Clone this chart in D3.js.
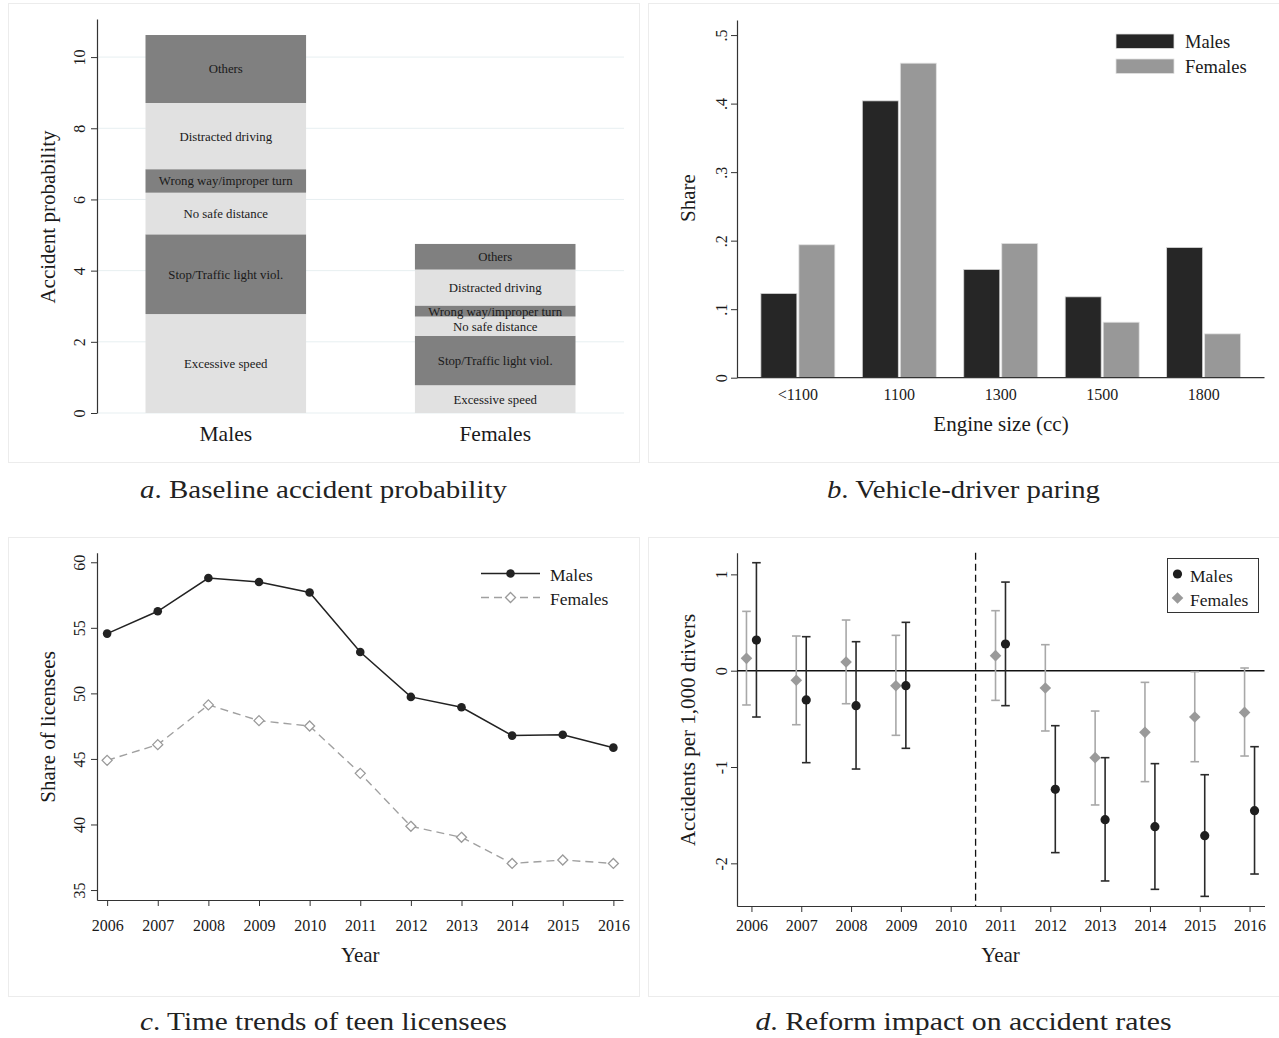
<!DOCTYPE html>
<html>
<head>
<meta charset="utf-8">
<script src="https://cdn.jsdelivr.net/npm/d3@7"></script>
<style>
  html, body { margin: 0; padding: 0; background: #fff; }
  svg { display: block; font-family: "Liberation Serif", "Times New Roman", serif; }
</style>
</head>
<body>
<svg id="fig" width="1279" height="1038"></svg>
<script>
// ---- Panel a: baseline accident probability by cause ----
const causes = ["Excessive speed", "Stop/Traffic light viol.", "No safe distance",
                "Wrong way/improper turn", "Distracted driving", "Others"];
const drivers = ["Males", "Females"];
const maleCauseProb   = [2.78, 2.24, 1.17, 0.66, 1.86, 1.91];
const femaleCauseProb = [0.78, 1.39, 0.54, 0.31, 1.01, 0.72];
const probTicks = [0, 2, 4, 6, 8, 10];

// ---- Panel b: engine size shares ----
const engineSizes = ["<1100", "1100", "1300", "1500", "1800"];
const maleShare   = [0.123, 0.404, 0.158, 0.118, 0.190];
const femaleShare = [0.194, 0.459, 0.196, 0.081, 0.064];
const shareTicks = [0, 0.1, 0.2, 0.3, 0.4, 0.5];

// ---- Panel c: share of teen licensees ----
const years = [2006, 2007, 2008, 2009, 2010, 2011, 2012, 2013, 2014, 2015, 2016];
const maleLicensees   = [54.56, 56.26, 58.80, 58.50, 57.69, 53.16, 49.73, 48.94, 46.78, 46.85, 45.86];
const femaleLicensees = [44.89, 46.09, 49.12, 47.92, 47.51, 43.90, 39.86, 39.02, 37.03, 37.29, 37.03];
const licTicks = [35, 40, 45, 50, 55, 60];

// ---- Panel d: event-study estimates ----
const eventYears = [2006, 2007, 2008, 2009, 2011, 2012, 2013, 2014, 2015, 2016];
const maleEst   = [0.318, -0.304, -0.363, -0.156, 0.277, -1.232, -1.547, -1.619, -1.713, -1.453];
const maleLo    = [-0.481, -0.955, -1.021, -0.806, -0.363, -1.889, -2.183, -2.270, -2.343, -2.111];
const maleHi    = [1.121, 0.353, 0.301, 0.502, 0.920, -0.571, -0.903, -0.965, -1.080, -0.789];
const femaleEst = [0.128, -0.100, 0.090, -0.156, 0.156, -0.180, -0.903, -0.640, -0.481, -0.433];
const femaleLo  = [-0.356, -0.561, -0.343, -0.671, -0.308, -0.626, -1.394, -1.152, -0.945, -0.886];
const femaleHi  = [0.616, 0.360, 0.526, 0.367, 0.623, 0.270, -0.419, -0.121, -0.010, 0.028];
const effectTicks = [-2, -1, 0, 1];
const reformYear = 2010.5;

const captions = [
  {letter: "a", text: "Baseline accident probability", cx: 323.5, y: 498, w: 367},
  {letter: "b", text: "Vehicle-driver paring",         cx: 963.5, y: 498, w: 273},
  {letter: "c", text: "Time trends of teen licensees", cx: 323.5, y: 1030, w: 367},
  {letter: "d", text: "Reform impact on accident rates", cx: 963.5, y: 1030, w: 416}
];

const svg = d3.select("#fig");
svg.append("rect").attr("width", 1279).attr("height", 1038).attr("fill", "#fff");

// panel frames
[[8, 3], [648, 3], [8, 537], [648, 537]].forEach(([x, y]) => {
  svg.append("rect").attr("x", x + 0.5).attr("y", y + 0.5).attr("width", 631).attr("height", 459)
    .attr("fill", "none").attr("stroke", "#ececec").attr("stroke-width", 1);
});

const TXT = "#1a1a1a";
const TICK_FS = 16;
const plain = d => String(d);   // ASCII hyphen for negatives

function leftAxis(g, scale, ticks, fmt, x0, shift) {
  const ax = g.append("g").attr("transform", `translate(${x0},0)`)
    .call(d3.axisLeft(scale).tickValues(ticks).tickFormat(fmt).tickSize(6).tickSizeOuter(0));
  ax.attr("font-size", TICK_FS).attr("font-family", "Liberation Serif, serif");
  ax.select(".domain").attr("stroke", "#333").attr("stroke-width", 1.2);
  ax.selectAll(".tick line").attr("stroke", "#333").attr("stroke-width", 1);
  ax.selectAll(".tick text")
    .attr("x", null).attr("dy", "0.35em")
    .attr("text-anchor", "middle")
    .attr("transform", `translate(${-shift},0) rotate(-90)`)
    .attr("font-size", TICK_FS).attr("fill", TXT);
  return ax;
}

function bottomAxis(g, scale, ticks, y0, labelY) {
  const xa = g.append("g").attr("transform", `translate(0,${y0})`)
    .call(d3.axisBottom(scale).tickValues(ticks).tickFormat(plain).tickSize(6).tickSizeOuter(0));
  xa.attr("font-size", TICK_FS).attr("font-family", "Liberation Serif, serif");
  xa.select(".domain").attr("stroke", "#333").attr("stroke-width", 1.2);
  xa.selectAll(".tick line").attr("stroke", "#333");
  xa.selectAll(".tick text").attr("y", labelY).attr("dy", "0.35em")
    .attr("font-size", TICK_FS).attr("fill", TXT);
  return xa;
}

function rotTitle(x, y, text) {
  svg.append("text").attr("transform", `translate(${x},${y}) rotate(-90)`)
    .attr("text-anchor", "middle").attr("dy", "0.35em")
    .attr("font-size", 21).attr("fill", TXT).text(text);
}

const diamond = (cx, cy, r) => `M${cx},${cy - r}L${cx + r},${cy}L${cx},${cy + r}L${cx - r},${cy}Z`;

// ================= Panel a =================
{
  const g = svg.append("g");
  const y = d3.scaleLinear().domain([0, 11.07]).range([413, 19]);
  const x = d3.scaleBand().domain(drivers).range([97, 624]).paddingInner(0.404).paddingOuter(0.18);

  // grid
  g.selectAll("line.grid").data(probTicks).join("line")
    .attr("x1", 97).attr("x2", 624).attr("y1", d => y(d)).attr("y2", d => y(d))
    .attr("stroke", "#e7eff1").attr("stroke-width", 1);

  const rows = drivers.map((d, i) => {
    const vals = i === 0 ? maleCauseProb : femaleCauseProb;
    const r = {driver: d};
    causes.forEach((c, j) => r[c] = vals[j]);
    return r;
  });
  const series = d3.stack().keys(causes)(rows);
  const fills = ["#e1e1e1", "#808080", "#e1e1e1", "#808080", "#e1e1e1", "#808080"];
  series.forEach((s, k) => {
    g.selectAll(null).data(s).join("rect")
      .attr("x", d => x(d.data.driver)).attr("width", x.bandwidth())
      .attr("y", d => y(d[1])).attr("height", d => y(d[0]) - y(d[1]))
      .attr("fill", fills[k]);
    g.selectAll(null).data(s).join("text")
      .attr("x", d => x(d.data.driver) + x.bandwidth() / 2)
      .attr("y", d => (y(d[0]) + y(d[1])) / 2).attr("dy", "0.35em")
      .attr("text-anchor", "middle").attr("font-size", 12.8).attr("fill", TXT)
      .text(s.key);
  });

  leftAxis(g, y, probTicks, plain, 97, 18);
  g.selectAll(null).data(drivers).join("text")
    .attr("x", d => x(d) + x.bandwidth() / 2).attr("y", 433).attr("dy", "0.35em")
    .attr("text-anchor", "middle").attr("font-size", 21.5).attr("fill", TXT).text(d => d);
  rotTitle(48, 217, "Accident probability");
}

// ================= Panel b =================
{
  const g = svg.append("g");
  const y = d3.scaleLinear().domain([0, 0.522]).range([377.7, 20]);
  const x = d3.scalePoint().domain(engineSizes).range([737, 1264.5]).padding(0.6);
  const bw = 36, gap = 1;

  g.selectAll(null).data(engineSizes).join("rect")
    .attr("x", d => x(d) - bw - gap).attr("width", bw)
    .attr("y", (d, i) => y(maleShare[i])).attr("height", (d, i) => y(0) - y(maleShare[i]))
    .attr("fill", "#262626").attr("stroke", "#d8d8d8").attr("stroke-width", 0.8);
  g.selectAll(null).data(engineSizes).join("rect")
    .attr("x", d => x(d) + gap).attr("width", bw)
    .attr("y", (d, i) => y(femaleShare[i])).attr("height", (d, i) => y(0) - y(femaleShare[i]))
    .attr("fill", "#989898").attr("stroke", "#e2e2e2").attr("stroke-width", 0.8);

  leftAxis(g, y, shareTicks, d => d === 0 ? "0" : d3.format(".1f")(d).replace(/^0/, ""), 737, 16);
  g.append("line").attr("x1", 737).attr("x2", 1264.5).attr("y1", y(0)).attr("y2", y(0))
    .attr("stroke", "#333").attr("stroke-width", 1.2);
  g.selectAll(null).data(engineSizes).join("text")
    .attr("x", d => x(d)).attr("y", 394).attr("dy", "0.35em")
    .attr("text-anchor", "middle").attr("font-size", TICK_FS).attr("fill", TXT).text(d => d);
  g.append("text").attr("x", 1001).attr("y", 424).attr("dy", "0.35em")
    .attr("text-anchor", "middle").attr("font-size", 21).attr("fill", TXT).text("Engine size (cc)");
  rotTitle(688, 198, "Share");

  // legend
  const leg = [["Males", "#262626", 34], ["Females", "#989898", 59]];
  leg.forEach(([lab, col, ty]) => {
    g.append("rect").attr("x", 1116).attr("y", ty).attr("width", 58).attr("height", 14.5)
      .attr("fill", col).attr("stroke", "#e2e2e2").attr("stroke-width", 0.8);
    g.append("text").attr("x", 1185).attr("y", ty + 7.5).attr("dy", "0.35em")
      .attr("font-size", 18.5).attr("fill", TXT).text(lab);
  });
}

// ================= Panel c =================
{
  const g = svg.append("g");
  const y = d3.scaleLinear().domain([34.24, 60.73]).range([900, 552.7]);
  const x = d3.scaleLinear().domain([2005.80, 2016.19]).range([97, 623]);

  leftAxis(g, y, licTicks, plain, 97, 18);
  bottomAxis(g, x, years, 900, 25);

  const line = d3.line().x((d, i) => x(years[i])).y(d => y(d));
  g.append("path").datum(femaleLicensees).attr("d", line)
    .attr("fill", "none").attr("stroke", "#a0a0a0").attr("stroke-width", 1.4)
    .attr("stroke-dasharray", "8,5");
  g.append("path").datum(maleLicensees).attr("d", line)
    .attr("fill", "none").attr("stroke", "#222").attr("stroke-width", 1.5);

  g.selectAll(null).data(femaleLicensees).join("path")
    .attr("d", (d, i) => diamond(x(years[i]), y(d), 5))
    .attr("fill", "#fff").attr("stroke", "#9a9a9a").attr("stroke-width", 1.3);
  g.selectAll(null).data(maleLicensees).join("circle")
    .attr("cx", (d, i) => x(years[i])).attr("cy", d => y(d)).attr("r", 4.3)
    .attr("fill", "#222");

  g.append("text").attr("x", x(2011)).attr("y", 955).attr("dy", "0.35em")
    .attr("text-anchor", "middle").attr("font-size", 21).attr("fill", TXT).text("Year");
  rotTitle(48, 727, "Share of licensees");

  // legend
  g.append("line").attr("x1", 481).attr("x2", 540).attr("y1", 573.5).attr("y2", 573.5)
    .attr("stroke", "#222").attr("stroke-width", 1.5);
  g.append("circle").attr("cx", 510.5).attr("cy", 573.5).attr("r", 4.3).attr("fill", "#222");
  g.append("line").attr("x1", 481).attr("x2", 540).attr("y1", 597.5).attr("y2", 597.5)
    .attr("stroke", "#a0a0a0").attr("stroke-width", 1.4).attr("stroke-dasharray", "8,5");
  g.append("path").attr("d", diamond(510.5, 597.5, 5))
    .attr("fill", "#fff").attr("stroke", "#9a9a9a").attr("stroke-width", 1.3);
  g.append("text").attr("x", 550).attr("y", 575).attr("dy", "0.35em")
    .attr("font-size", 17.5).attr("fill", TXT).text("Males");
  g.append("text").attr("x", 550).attr("y", 599).attr("dy", "0.35em")
    .attr("font-size", 17.5).attr("fill", TXT).text("Females");
}

// ================= Panel d =================
{
  const g = svg.append("g");
  const y = d3.scaleLinear().domain([-2.443, 1.225]).range([906, 552.7]);
  const x = d3.scaleLinear().domain([2005.71, 2016.3]).range([737, 1264.5]);
  const off = 0.1, cap = 4.3;

  leftAxis(g, y, effectTicks, plain, 737, 16);
  bottomAxis(g, x, years, 906, 19);

  // zero reference and reform date
  g.append("line").attr("x1", 737).attr("x2", 1264.5).attr("y1", y(0)).attr("y2", y(0))
    .attr("stroke", "#111").attr("stroke-width", 1.6);
  g.append("line").attr("x1", x(reformYear)).attr("x2", x(reformYear)).attr("y1", 552.7).attr("y2", 906)
    .attr("stroke", "#111").attr("stroke-width", 1.3).attr("stroke-dasharray", "7,4");

  function errorBars(est, lo, hi, dx, color) {
    const bars = g.selectAll(null).data(est).join("g");
    bars.append("line")
      .attr("x1", (d, i) => x(eventYears[i] + dx)).attr("x2", (d, i) => x(eventYears[i] + dx))
      .attr("y1", (d, i) => y(lo[i])).attr("y2", (d, i) => y(hi[i]))
      .attr("stroke", color).attr("stroke-width", 1.6);
    [lo, hi].forEach(arr => {
      bars.append("line")
        .attr("x1", (d, i) => x(eventYears[i] + dx) - cap).attr("x2", (d, i) => x(eventYears[i] + dx) + cap)
        .attr("y1", (d, i) => y(arr[i])).attr("y2", (d, i) => y(arr[i]))
        .attr("stroke", color).attr("stroke-width", 1.6);
    });
  }
  errorBars(femaleEst, femaleLo, femaleHi, -off, "#a8a8a8");
  errorBars(maleEst, maleLo, maleHi, off, "#2a2a2a");

  g.selectAll(null).data(femaleEst).join("path")
    .attr("d", (d, i) => diamond(x(eventYears[i] - off), y(d), 5.8))
    .attr("fill", "#9a9a9a");
  g.selectAll(null).data(maleEst).join("circle")
    .attr("cx", (d, i) => x(eventYears[i] + off)).attr("cy", d => y(d)).attr("r", 4.6)
    .attr("fill", "#1e1e1e");

  g.append("text").attr("x", x(2011)).attr("y", 955).attr("dy", "0.35em")
    .attr("text-anchor", "middle").attr("font-size", 21).attr("fill", TXT).text("Year");
  rotTitle(688, 730, "Accidents per 1,000 drivers");

  // legend
  g.append("rect").attr("x", 1167.5).attr("y", 558.5).attr("width", 91).attr("height", 54)
    .attr("fill", "#fff").attr("stroke", "#333").attr("stroke-width", 1);
  g.append("circle").attr("cx", 1177.5).attr("cy", 574).attr("r", 4.6).attr("fill", "#1e1e1e");
  g.append("path").attr("d", diamond(1177.5, 598, 5.8)).attr("fill", "#9a9a9a");
  g.append("text").attr("x", 1190).attr("y", 575.5).attr("dy", "0.35em")
    .attr("font-size", 17.5).attr("fill", TXT).text("Males");
  g.append("text").attr("x", 1190).attr("y", 599.5).attr("dy", "0.35em")
    .attr("font-size", 17.5).attr("fill", TXT).text("Females");
}

// ================= Captions =================
captions.forEach(c => {
  const t = svg.append("text").attr("x", c.cx - c.w / 2).attr("y", c.y)
    .attr("font-size", 25).attr("fill", "#222")
    .attr("textLength", c.w).attr("lengthAdjust", "spacingAndGlyphs");
  t.append("tspan").attr("font-style", "italic").text(c.letter);
  t.append("tspan").text(". " + c.text);
});
</script>
</body>
</html>
